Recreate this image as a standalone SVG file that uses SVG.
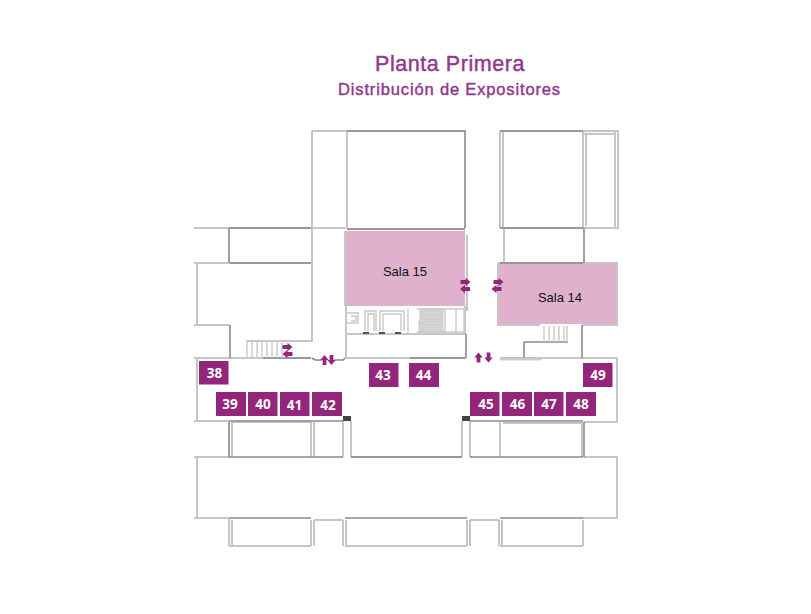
<svg xmlns="http://www.w3.org/2000/svg" xmlns:xlink="http://www.w3.org/1999/xlink" width="811" height="614" viewBox="0 0 811 614">
<style>
.w{fill:none;stroke:#c6c6c4;stroke-width:2}
.d{fill:none;stroke:#8c8a88;stroke-width:1.6}
.g{fill:#d3d3d1;stroke:#bdbdbb;stroke-width:.7}
.s{fill:none;stroke:#c9c9c7;stroke-width:1.4}
.b{fill:#93267a}
.n{font:bold 13.500px "Open Sans","Noto Sans",sans-serif;fill:#fff;text-anchor:middle}
.r{font:13px "Liberation Sans",Arial,sans-serif;fill:#111;text-anchor:middle}
.a{fill:#93267a}
.t{font-family:"Liberation Sans",Arial,sans-serif;fill:#93398a;stroke:#93398a;stroke-width:.45;text-anchor:middle}
</style>
<defs>
<path id="ar" d="M-5-1.900H0V-4.200L5 0 0 4.200V1.900H-5Z"/>
</defs>
<rect width="811" height="614" fill="#fff"/>
<text class="t" x="450" y="71" font-size="21.500" letter-spacing=".55">Planta Primera</text>
<text class="t" x="449.500" y="95" font-size="16.500" letter-spacing=".85">Distribución de Expositores</text>

<rect x="346" y="231" width="119" height="75" fill="#e0b1cd"/>
<rect x="499" y="264" width="118" height="60" fill="#e0b1cd"/>

<g id="walls-light">
<path class="w" d="M312 131H347V228M312 131V228M194 228H346M194 263H312M312 228V341H246M197 263V325M194 325H230M194 358H311M197 358V421M194 421H229M194 457H229M197 457V518M194 518H229"/>
<path class="w" d="M347 131H465M347 229H465M500 131H618V228H500M500 131V228M503 131V228M583 131V228M586 133V226M615 131V228M584 134H616"/>
<path class="w" d="M504 229V263M498 263V326M498 263H618M617 263V326M498 325H540M582 325H618"/>
<path class="w" d="M500 358H618M617 358V421M618 422H584M617 457V518M618 457H584M618 518H582"/>
<path class="w" d="M345 358H466M346 306V358M346 334H466M345 231V306"/>
<path class="w" d="M467 235V311M465 306V335"/>
<path class="w" d="M232 422V457M232 422H311V457M311 422V457M314 422V457M351 421V457M343 421V457M462 421V457M470 421V457M500 422V457M503 423H582V457"/>
<path class="w" d="M229 518V546M232 520V546M229 546H311M311 520V546M314 520V546M314 520H343M343 520V546M346 520V546M345 546H467M467 520V546M470 520V546M470 520H499M499 520V546M502 520V546M500 546H583M583 520V546"/>
<path class="w" d="M351 457H462"/>
</g>
<g id="walls-dark">
<path class="d" d="M347 131H465V228M347 229H465M229 228H311M229 228V263M230 263H311M230 325V358M263 358H311M312 358L315 360H322M334 360H343L345 358"/>
<path class="d" d="M500 131H583M500 228H583M584 228V263M500 263H583M582 325V358M524 358V342H568M466 334V358"/>
<path class="d" d="M229 421H343M229 457H343M470 421H583M470 457H583M229 518H311M345 518H467M500 518H583M229 422V457M584 422V457M351 457H462"/>
<path class="d" d="M410 358H465"/>
<rect x="343" y="416" width="8" height="5" fill="#444"/>
<rect x="462" y="416" width="8" height="5" fill="#444"/>
</g>
<g id="stairs">
<path class="s" d="M247 341V358M252 341V358M257 341V358M262 341V358M267 341V358M272 341V358M277 341V358M282 341V358"/>
<path class="s" d="M544 326V342M549 326V342M554 326V342M559 326V342M564 326V342M567 326V342"/>
<rect class="g" x="420" y="309" width="23" height="11"/>
<rect class="g" x="419" y="321" width="24" height="11"/>
<rect class="g" x="501" y="358" width="40" height="2"/>
</g>
<g id="core">
<path class="s" d="M347 313H358V323H347M351 316H356V321H351M365 331V311H376V331M380 331V311H404V331M368 331V314H374V331M383 331V314H401V331M408 309V334M417 309H466M417 332H466M445 309V334M456 309V334M464 309V334"/>
<path d="M363 332h6v2h-6zM379 332h6v2h-6zM395 332h6v2h-6z" fill="#555"/>
</g>
<g id="sala-15"><text class="r" x="405" y="276">Sala 15</text></g>
<g id="sala-14"><text class="r" x="560" y="302">Sala 14</text></g>
<g id="arrows" class="a">
<use xlink:href="#ar" href="#ar" transform="translate(287.500 347)"/>
<use xlink:href="#ar" href="#ar" transform="translate(287.500 354) rotate(180)"/>
<use xlink:href="#ar" href="#ar" transform="translate(324.500 360) rotate(-90)"/>
<use xlink:href="#ar" href="#ar" transform="translate(331.500 360) rotate(90)"/>
<use xlink:href="#ar" href="#ar" transform="translate(465.500 282)"/>
<use xlink:href="#ar" href="#ar" transform="translate(465 289) rotate(180)"/>
<use xlink:href="#ar" href="#ar" transform="translate(498.500 282)"/>
<use xlink:href="#ar" href="#ar" transform="translate(496.500 289) rotate(180)"/>
<use xlink:href="#ar" href="#ar" transform="translate(478.500 357.500) rotate(-90)"/>
<use xlink:href="#ar" href="#ar" transform="translate(488.500 357.500) rotate(90)"/>
</g>
<g id="stand-38"><rect class="b" x="199" y="361" width="29.500" height="23.500"/><text class="n" x="214.500" y="378">38</text></g>
<g id="stand-39"><rect class="b" x="216" y="392" width="30" height="24"/><text class="n" x="230" y="409">39</text></g>
<g id="stand-40"><rect class="b" x="248" y="392" width="29.500" height="24"/><text class="n" x="263" y="409">40</text></g>
<g id="stand-41"><rect class="b" x="280" y="392" width="29.500" height="24"/><text class="n" x="294.500" y="410">41</text></g>
<g id="stand-42"><rect class="b" x="312" y="392" width="30" height="24"/><text class="n" x="328" y="410">42</text></g>
<g id="stand-43"><rect class="b" x="369" y="363" width="29.500" height="24"/><text class="n" x="383" y="380">43</text></g>
<g id="stand-44"><rect class="b" x="409" y="363" width="30" height="24"/><text class="n" x="423.500" y="380">44</text></g>
<g id="stand-45"><rect class="b" x="470" y="392" width="29.500" height="24"/><text class="n" x="486" y="409">45</text></g>
<g id="stand-46"><rect class="b" x="502" y="392" width="30" height="24"/><text class="n" x="517.500" y="409">46</text></g>
<g id="stand-47"><rect class="b" x="534" y="392" width="29.500" height="24"/><text class="n" x="549" y="409">47</text></g>
<g id="stand-48"><rect class="b" x="566" y="392" width="30" height="24"/><text class="n" x="581" y="409">48</text></g>
<g id="stand-49"><rect class="b" x="583" y="363" width="29.500" height="24"/><text class="n" x="598" y="380">49</text></g>
</svg>
